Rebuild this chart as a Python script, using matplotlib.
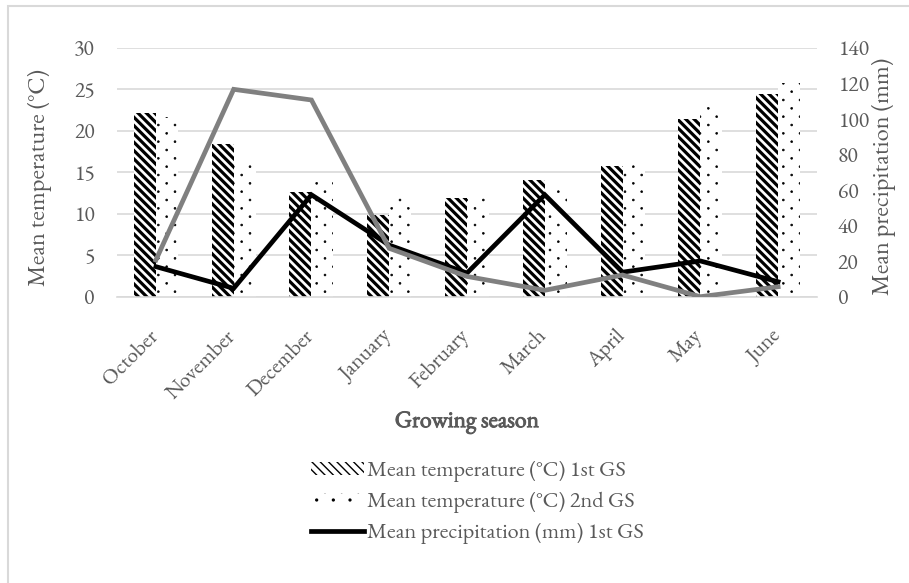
import matplotlib
matplotlib.use("Agg")
import matplotlib.pyplot as plt
import matplotlib.patheffects as pe
from matplotlib import hatch as mhatch
from matplotlib.path import Path
from matplotlib.transforms import ScaledTranslation
import numpy as np
from matplotlib.patches import Rectangle

months = ["October", "November", "December", "January", "February",
          "March", "April", "May", "June"]
temp_gs1 = [22.1, 18.4, 12.6, 9.8, 11.9, 14.0, 15.7, 21.4, 24.4]
temp_gs2 = [21.6, 16.2, 14.2, 12.2, 12.2, 13.3, 16.2, 22.8, 25.7]
prec_gs1 = [16.9, 4.7, 57.3, 29.0, 13.3, 57.3, 13.8, 20.1, 8.4]
prec_gs2 = [20.6, 116.6, 110.6, 27.2, 11.4, 3.6, 12.2, 0.0, 5.6]

temp_ticks = [0, 5, 10, 15, 20, 25, 30]
prec_ticks = [0, 20, 40, 60, 80, 100, 120, 140]

TXT = "#595959"
GRID = "#d9d9d9"
FONT = ["EB Garamond", "Liberation Serif", "DejaVu Serif"]
plt.rcParams["font.family"] = FONT


# Excel-like sparse dotted pattern: rows twice as dense as dots in a row
class RowDots(mhatch.HatchPatternBase):
    def __init__(self, hatch, density):
        n = hatch.count('.')
        self.m = max(1, (n * density) // 2)
        self.R = 2 * self.m
        circ = Path.unit_circle()
        self.sv = circ.vertices
        self.sc = circ.codes
        if n:
            ndots = sum(self.m + 1 if r % 2 == 0 else self.m
                        for r in range(self.R + 1))
            self.num_vertices = ndots * len(self.sv)
        else:
            self.num_vertices = 0

    def set_vertices_and_codes(self, vertices, codes):
        sv = self.sv * (0.11 / self.R)
        nv = len(sv)
        cur = 0
        for r, yy in enumerate(np.linspace(0, 1, self.R + 1)):
            if r % 2 == 0:
                cols = np.linspace(0, 1, self.m + 1)
            else:
                cols = np.linspace(0.5 / self.m, 1 - 0.5 / self.m, self.m)
            for xc in cols:
                vertices[cur:cur + nv] = sv + (xc, yy)
                codes[cur:cur + nv] = self.sc
                cur += nv


if hasattr(mhatch, "_hatch_types"):
    mhatch._hatch_types = [RowDots if t is mhatch.SmallFilledCircles else t
                           for t in mhatch._hatch_types]

fig = plt.figure(figsize=(9.09, 5.83), dpi=100)
fig.patches.append(Rectangle((8 / 909, -0.1), 1.2, 1 - 6 / 583 + 0.1,
                             transform=fig.transFigure, fill=False,
                             edgecolor=GRID, linewidth=1.5))

ax = fig.add_axes([117 / 909, 1 - 296.7 / 583, 700 / 909, 249 / 583])
x = np.arange(len(months))
w = 0.283

b1 = ax.bar(x - w / 2, temp_gs1, w, facecolor="white", edgecolor="black",
            linewidth=0, hatch="\\\\\\\\", label="Mean temperature (\u00b0C) 1st GS",
            zorder=2)
b2 = ax.bar(x + w / 2, temp_gs2, w, facecolor="white", edgecolor="black",
            linewidth=0, hatch="..", label="Mean temperature (\u00b0C) 2nd GS",
            zorder=2)
for p in b1:
    p.set_hatch_linewidth(2.3)
for p in b2:
    p.set_hatch_linewidth(0.5)

ax.set_xlim(-0.5, len(months) - 0.5)
ax.set_ylim(0, 30)
ax.set_yticks(temp_ticks)
ax.yaxis.grid(True, color=GRID, linewidth=1.2, zorder=0)
ax.set_axisbelow(True)
for s in ["top", "right", "left"]:
    ax.spines[s].set_visible(False)
ax.spines["bottom"].set_color(GRID)
ax.spines["bottom"].set_linewidth(1.2)
ax.tick_params(axis="both", length=0, colors=TXT, labelsize=15.5)
ax.tick_params(axis="y", pad=16)
ax.set_xticks(x)
ax.set_xticklabels(months, rotation=45, ha="right", va="top",
                   rotation_mode="anchor")
ax.tick_params(axis="x", pad=18)
shift = ScaledTranslation(-8 / 100, -4 / 100, fig.dpi_scale_trans)
for lab in ax.get_xticklabels():
    lab.set_transform(lab.get_transform() + shift)
ax.set_ylabel("Mean temperature (\u00b0C)", color=TXT, fontsize=17.5)
ax.yaxis.set_label_coords(-0.093, 0.48)
xl = ax.set_xlabel("Growing season", color=TXT, fontsize=17)
ax.xaxis.set_label_coords(0.5, -0.455)
xl.set_path_effects([pe.withStroke(linewidth=0.7, foreground=TXT)])

ax2 = ax.twinx()
ax2.set_ylim(0, 140)
ax2.set_yticks(prec_ticks)
for s in ["top", "right", "left", "bottom"]:
    ax2.spines[s].set_visible(False)
ax2.tick_params(axis="y", length=0, colors=TXT, labelsize=15.5, pad=15)
ax2.set_ylabel("Mean precipitation (mm)", color=TXT, fontsize=17.5)
ax2.yaxis.set_label_coords(1.0786, 0.485)
l1, = ax2.plot(x, prec_gs1, color="black", linewidth=3.4,
               solid_joinstyle="miter", label="Mean precipitation (mm) 1st GS",
               zorder=3)
l2, = ax2.plot(x, prec_gs2, color="#808080", linewidth=3.4,
               solid_joinstyle="miter", label="Mean precipitation (mm) 2nd GS",
               zorder=3)

leg = fig.legend([b1, b2, l1],
                 [b1.get_label(), b2.get_label(), l1.get_label()],
                 loc="upper left", bbox_to_anchor=(311 / 909, 1 - 461 / 583),
                 frameon=False, fontsize=16, labelcolor=TXT,
                 handlelength=2.4, handleheight=0.5, handletextpad=0.1,
                 labelspacing=0.43, borderaxespad=0, borderpad=0)

fig.savefig("out.png", dpi=100, facecolor="white")
